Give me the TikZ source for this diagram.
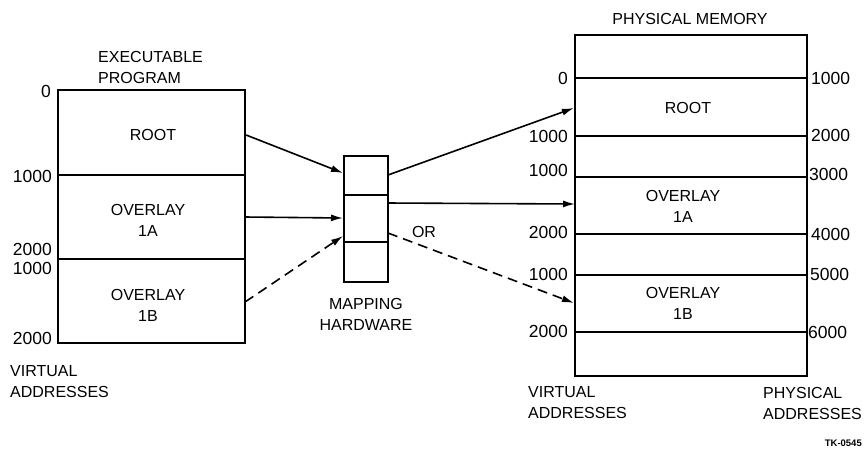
\documentclass[tikz,border=0pt]{standalone}
\usepackage{fontspec}
\setmainfont{Liberation Sans}
\usetikzlibrary{arrows.meta}
\begin{document}
\begin{tikzpicture}[x=1pt,y=-1pt,
  lbl/.style={font=\fontsize{16}{21}\selectfont, inner sep=0pt, align=center},
  lbll/.style={font=\fontsize{16}{21}\selectfont, inner sep=0pt, align=left, anchor=west},
  numl/.style={font=\fontsize{17.5}{20}\selectfont, inner sep=0pt, anchor=east},
  numr/.style={font=\fontsize{17.5}{20}\selectfont, inner sep=0pt, anchor=west},
  box/.style={draw, line width=2.2pt, inner sep=0pt},
  divider/.style={line width=1.3pt},
  conn/.style={line width=1.6pt, -{Latex[length=12pt,width=7pt]}},
  dconn/.style={conn, dash pattern=on 10pt off 6pt}]
\useasboundingbox (0,0) rectangle (866,451);

% ---- executable program ----
\node[box, minimum width=187pt, minimum height=253pt] (prog) at (151.5,216.5) {};
\draw[divider] (58,175) -- (245,175);
\draw[divider] (58,259) -- (245,259);
\node[lbll] (progtitle) at (98,67) {EXECUTABLE\\PROGRAM};
\node[lbl] (root1) at (153,135) {ROOT};
\node[lbl] (ov1a) at (148,220) {OVERLAY\\1A};
\node[lbl] (ov1b) at (148,305) {OVERLAY\\1B};
\node[numl] (la0) at (51,91) {0};
\node[numl] (la1) at (52,176) {1000};
\node[numl] (la2) at (52,249) {2000};
\node[numl] (la3) at (52,268) {1000};
\node[numl] (la4) at (52,338) {2000};
\node[lbll] (lva) at (10,381.5) {VIRTUAL\\ADDRESSES};

% ---- mapping hardware ----
\node[box, line width=2pt, minimum width=44pt, minimum height=126pt] (map) at (366,219) {};
\draw[divider] (344,195) -- (388,195);
\draw[divider] (344,242) -- (388,242);
\node[lbl] (maplbl) at (366,314.5) {MAPPING\\HARDWARE};
\coordinate (mi1) at (343,173);
\coordinate (mi2) at (343,218);
\coordinate (mi3) at (343,236);
\coordinate (mo1) at (388,175);
\coordinate (mo2) at (388,203);
\coordinate (mo3) at (388,233);
\node[lbl] (or) at (424,232) {OR};

% ---- physical memory ----
\node[box, minimum width=232pt, minimum height=341pt] (phys) at (691,205.5) {};
\foreach \yy in {78,136,177,234,275,332}
  \draw[divider] (575,\yy) -- (807,\yy);
\node[lbl] (physt) at (690,19) {PHYSICAL MEMORY};
\node[lbl] (root2) at (688,108) {ROOT};
\node[lbl] (ov2a) at (683,206.5) {OVERLAY\\1A};
\node[lbl] (ov2b) at (683,303) {OVERLAY\\1B};
\node[numl] (va0) at (568,78) {0};
\node[numl] (va1) at (568,136) {1000};
\node[numl] (va2) at (568,170) {1000};
\node[numl] (va3) at (568,232) {2000};
\node[numl] (va4) at (568,274) {1000};
\node[numl] (va5) at (568,331) {2000};
\node[numr] (pa1) at (811,78) {1000};
\node[numr] (pa2) at (811,135) {2000};
\node[numr] (pa3) at (809,174) {3000};
\node[numr] (pa4) at (811,234) {4000};
\node[numr] (pa5) at (810,274) {5000};
\node[numr] (pa6) at (808,332) {6000};
\node[lbll] (rva) at (528,403) {VIRTUAL\\ADDRESSES};
\node[lbll] (rpa) at (763,403) {PHYSICAL\\ADDRESSES};

\node[font=\bfseries\fontsize{9.5}{11}\selectfont, inner sep=0pt, anchor=east] (tk) at (862,443) {TK-0545};

% ---- connectors ----
\draw[conn] (root1 -| prog.east) -- (mi1);
\draw[conn] (245,217) -- (mi2);
\draw[dconn] (245,302) -- (mi3);
\draw[conn] (mo1) -- (root2 -| phys.west);
\draw[conn] (mo2) -- (575,204);
\draw[dconn] (mo3) -- (ov2b -| phys.west);
\end{tikzpicture}
\end{document}
